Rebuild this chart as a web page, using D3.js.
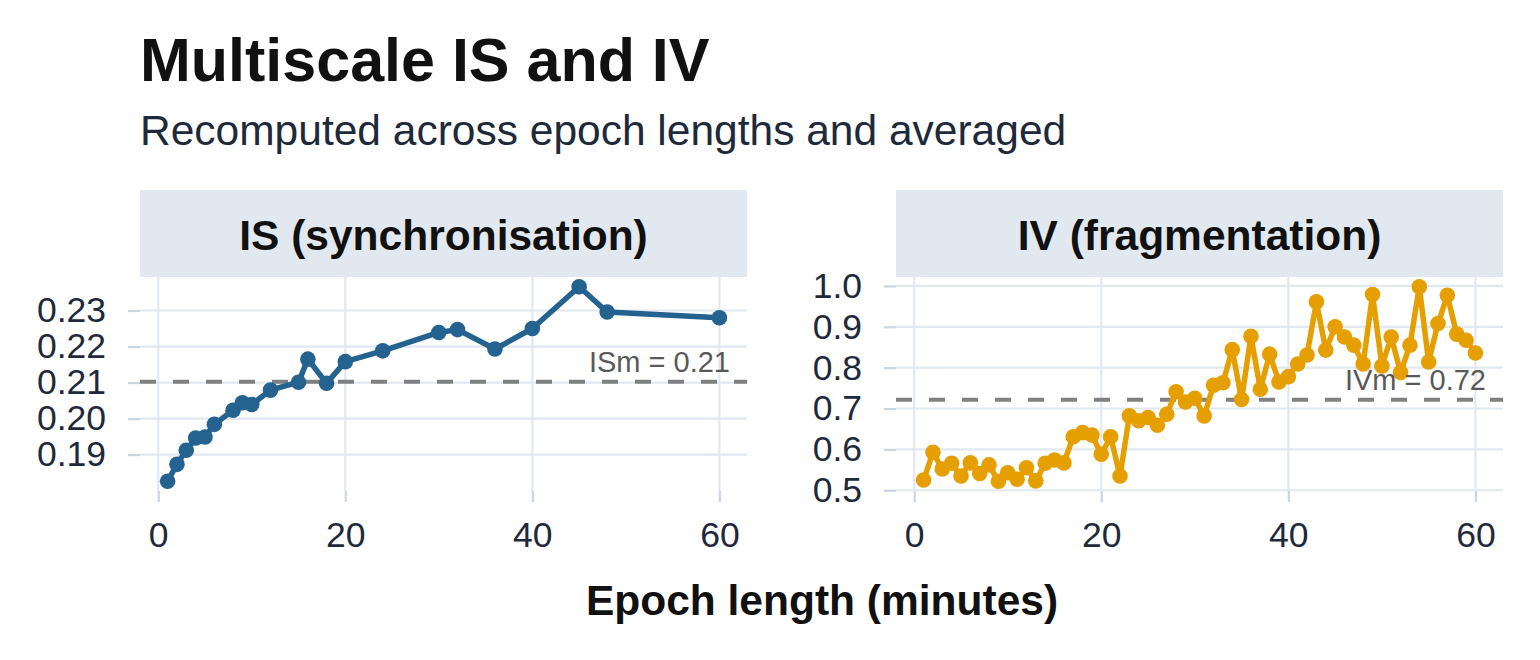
<!DOCTYPE html>
<html>
<head>
<meta charset="utf-8">
<script src="https://cdn.jsdelivr.net/npm/d3@7"></script>
<style>
  body { margin: 0; background: #fff; }
  svg { display: block; font-family: "Liberation Sans", Arial, sans-serif; }
</style>
</head>
<body>
<div id="chart"></div>
<script>
/* Multiscale IS and IV - two facet panels */

const isEpochs = [1, 2, 3, 4, 5, 6, 8, 9, 10, 12, 15, 16, 18, 20, 24, 30, 32, 36, 40, 45, 48, 60];
const isValues = [0.1826, 0.1873, 0.1912, 0.1946, 0.1949, 0.1984, 0.2023, 0.2044, 0.2039, 0.2079,
                  0.2101, 0.2165, 0.2098, 0.2158, 0.2188, 0.2239, 0.2247, 0.2193, 0.2250, 0.2366,
                  0.2296, 0.2280];

const ivEpochs = [1, 2, 3, 4, 5, 6, 7, 8, 9, 10, 11, 12, 13, 14, 15, 16, 17, 18, 19, 20,
                  21, 22, 23, 24, 25, 26, 27, 28, 29, 30, 31, 32, 33, 34, 35, 36, 37, 38, 39, 40,
                  41, 42, 43, 44, 45, 46, 47, 48, 49, 50, 51, 52, 53, 54, 55, 56, 57, 58, 59, 60];
const ivValues = [0.525, 0.593, 0.552, 0.566, 0.535, 0.567, 0.541, 0.562, 0.522, 0.543,
                  0.527, 0.555, 0.523, 0.566, 0.574, 0.567, 0.631, 0.641, 0.635, 0.588,
                  0.631, 0.535, 0.682, 0.670, 0.678, 0.659, 0.686, 0.741, 0.716, 0.725,
                  0.682, 0.757, 0.763, 0.844, 0.722, 0.877, 0.747, 0.833, 0.765, 0.778,
                  0.809, 0.831, 0.961, 0.843, 0.900, 0.875, 0.855, 0.809, 0.979, 0.804,
                  0.875, 0.788, 0.855, 0.998, 0.814, 0.908, 0.977, 0.882, 0.867, 0.836];

const xTicks = [0, 20, 40, 60];
const isTicks = [0.19, 0.20, 0.21, 0.22, 0.23];
const ivTicks = [0.5, 0.6, 0.7, 0.8, 0.9, 1.0];

const width = 1540, height = 660;
const panelTop = 277, panelBottom = 491, stripTop = 190;

const svg = d3.select("#chart")
    .append("svg")
    .attr("width", width)
    .attr("height", height)
    .attr("viewBox", [0, 0, width, height]);

svg.append("text")
    .attr("x", 140).attr("y", 81)
    .style("font-size", "61px").style("font-weight", "bold")
    .attr("fill", "#111111")
    .text("Multiscale IS and IV");

svg.append("text")
    .attr("x", 140).attr("y", 145)
    .style("font-size", "42.5px")
    .attr("fill", "#1e293b")
    .text("Recomputed across epoch lengths and averaged");

svg.append("text")
    .attr("x", 822).attr("y", 615)
    .attr("text-anchor", "middle")
    .style("font-size", "42.5px").style("font-weight", "bold")
    .attr("fill", "#111111")
    .text("Epoch length (minutes)");

// expand a domain by 5% each side like ggplot
function expand(ext) {
    const pad = (ext[1] - ext[0]) * 0.05;
    return [ext[0] - pad, ext[1] + pad];
}

function panel(opts) {
    const left = opts.left, right = opts.left + 607;
    const data = opts.xs.map((x, i) => ({x: x, y: opts.ys[i]}));

    const x = d3.scaleLinear()
        .domain(expand(d3.extent(opts.xs)))
        .range([left, right]);
    const y = d3.scaleLinear()
        .domain(expand(d3.extent(opts.ys)))
        .range([panelBottom, panelTop]);

    const g = svg.append("g");

    // strip
    g.append("rect")
        .attr("x", left).attr("y", stripTop)
        .attr("width", right - left).attr("height", panelTop - stripTop)
        .attr("fill", "#e2e8f0");
    g.append("text")
        .attr("x", (left + right) / 2).attr("y", 250)
        .attr("text-anchor", "middle")
        .style("font-size", "42.5px").style("font-weight", "bold")
        .attr("fill", "#111111")
        .text(opts.title);

    // grid
    g.append("g").selectAll("line")
        .data(opts.yTicks).join("line")
        .attr("x1", left).attr("x2", right)
        .attr("y1", d => y(d)).attr("y2", d => y(d))
        .attr("stroke", "#e2e8f0").attr("stroke-width", 2.2);
    g.append("g").selectAll("line")
        .data(xTicks).join("line")
        .attr("x1", d => x(d)).attr("x2", d => x(d))
        .attr("y1", panelTop).attr("y2", panelBottom)
        .attr("stroke", "#e2e8f0").attr("stroke-width", 2.2);

    // axes
    const yAxis = g.append("g")
        .attr("transform", `translate(${left},0)`)
        .call(d3.axisLeft(y).tickValues(opts.yTicks).tickFormat(d3.format(opts.fmt))
            .tickSize(12).tickPadding(22));
    const xAxis = g.append("g")
        .attr("transform", `translate(0,${panelBottom})`)
        .call(d3.axisBottom(x).tickValues(xTicks).tickSize(11).tickPadding(20));
    [yAxis, xAxis].forEach(a => {
        a.select(".domain").remove();
        a.selectAll(".tick line").attr("stroke", "#cbd5e1").attr("stroke-width", 2.2);
        a.selectAll(".tick text")
            .attr("fill", "#1e293b")
            .style("font-size", "35.5px")
            .style("font-family", "'Liberation Sans', Arial, sans-serif");
    });
    xAxis.selectAll(".tick text").attr("dy", "0.71em");

    // mean reference line
    const m = d3.mean(opts.ys);
    g.append("line")
        .attr("x1", left).attr("x2", right)
        .attr("y1", y(m)).attr("y2", y(m))
        .attr("stroke", "#808080").attr("stroke-width", 4)
        .attr("stroke-dasharray", "16,17");

    g.append("path")
        .datum(data)
        .attr("fill", "none")
        .attr("stroke", opts.color)
        .attr("stroke-width", 5.5)
        .attr("stroke-linejoin", "round")
        .attr("d", d3.line().x(d => x(d.x)).y(d => y(d.y)));

    g.append("g").selectAll("circle")
        .data(data).join("circle")
        .attr("cx", d => x(d.x))
        .attr("cy", d => y(d.y))
        .attr("r", 7.8)
        .attr("fill", opts.color);

    g.append("text")
        .attr("x", right - 17)
        .attr("y", y(m) - 10)
        .attr("text-anchor", "end")
        .style("font-size", "29px")
        .attr("fill", "#595959")
        .text(`${opts.label} = ${d3.format(".2f")(m)}`);
}

panel({left: 140, xs: isEpochs, ys: isValues, yTicks: isTicks, fmt: ".2f",
       title: "IS (synchronisation)", color: "#24628f", label: "ISm"});
panel({left: 896, xs: ivEpochs, ys: ivValues, yTicks: ivTicks, fmt: ".1f",
       title: "IV (fragmentation)", color: "#e69f00", label: "IVm"});
</script>
</body>
</html>
